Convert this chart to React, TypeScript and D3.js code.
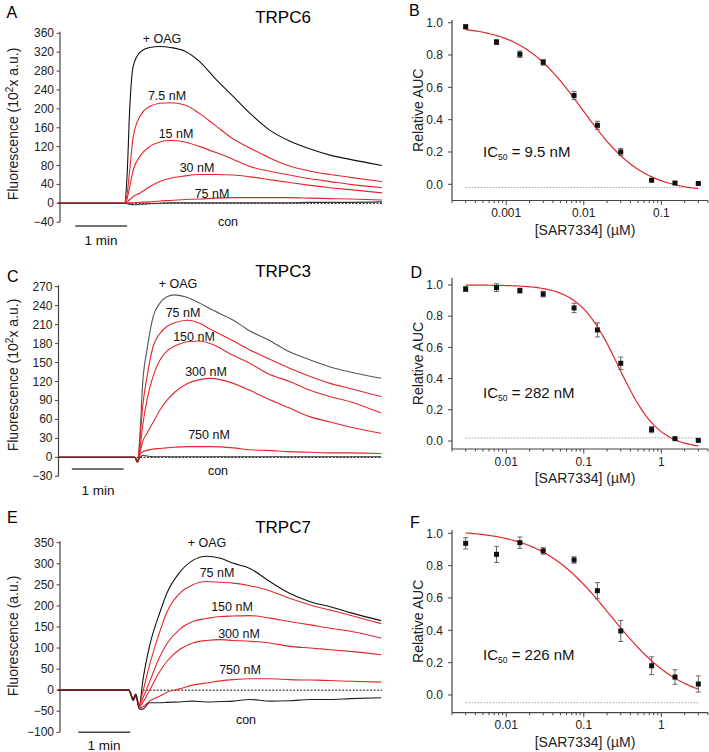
import React from 'react';
import * as d3 from 'd3';

const FONT = '"Liberation Sans", Arial, Helvetica, sans-serif';
const RED = '#e3262b';

// ---------- Panel A (TRPC6) traces ----------
const timesA = [0, 77, 80, 83, 87, 95, 106, 118, 130, 147, 164, 182, 203, 222, 245, 268, 292, 315, 338, 375];
const oagA = [0, 0, 60, 200, 290, 320, 330, 332, 330, 322, 300, 264, 226, 191, 155, 132, 115, 102, 93, 80];
const nm7_5A = [0, 0, 20, 70, 140, 185, 205, 212, 213, 208, 190, 165, 136, 117, 96, 79, 68, 61, 55, 46];
const nm15A = [0, 0, 10, 35, 70, 100, 120, 130, 133, 130, 120, 108, 93, 78, 68, 60, 52, 46, 40, 33];
const nm30A = [0, 0, 3, 8, 14, 22, 35, 46, 53, 58, 61, 61, 60, 56, 50, 44, 38, 33, 29, 22];
const nm75A = [0, 0, 0, 1, 1, 2, 3, 5, 6, 8, 9, 11, 12, 12, 12, 12, 11, 10, 9, 7];
const conA = [0, 0, -1, -2, -3, -2, -1, 0, 1, 1, 1, 1, 1, 1, 1, 1, 2, 2, 2, 3];
const labelsA = ['+ OAG', '7.5 nM', '15 nM', '30 nM', '75 nM', 'con'];
const ticksA = [-40, 0, 40, 80, 120, 160, 200, 240, 280, 320, 360];

// ---------- Panel C (TRPC3) traces ----------
const timesC = [0, 89, 92, 95, 98, 103, 110, 118, 126, 135, 150, 164, 176, 203, 222, 242, 268, 292, 315, 338, 374];
const oagC = [0, 0, -8, 40, 117, 170, 222, 244, 254, 257, 253, 244, 235, 217, 200, 187, 167, 154, 143, 135, 125];
const nm75C = [0, 0, -8, 30, 80, 127, 175, 196, 207, 213, 217, 212, 203, 184, 170, 157, 141, 128, 117, 109, 96];
const nm150C = [0, 0, -8, 15, 50, 91, 128, 154, 168, 176, 183, 184, 180, 161, 149, 133, 120, 106, 96, 88, 70];
const nm300C = [0, 0, -8, 8, 25, 38, 55, 75, 90, 103, 117, 123, 125, 117, 106, 93, 78, 64, 56, 48, 38];
const nm750C = [0, 0, -8, 4, 9, 11, 13, 14, 15, 16, 17, 17, 17, 15, 12, 11, 9, 8, 7, 7, 6];
const conC = [0, 0, -6, 0, 3, 2, 1, 1, 1, 1, 1, 1, 1, 1, 1, 1, 1, 1, 1, 1, 1];
const labelsC = ['+ OAG', '75 nM', '150 nM', '300 nM', '750 nM', 'con'];
const ticksC = [-30, 0, 30, 60, 90, 120, 150, 180, 210, 240, 270];

// ---------- Panel E (TRPC7) traces ----------
const timesE = [0, 82, 87, 90, 94, 98, 106, 118, 126, 141, 156, 172, 188, 203, 222, 245, 268, 292, 315, 338, 374];
const oagE = [0, 0, -25, -15, -40, 20, 105, 185, 230, 280, 308, 318, 313, 301, 289, 258, 230, 210, 198, 184, 165];
const nm75E = [0, 0, -20, -10, -35, -5, 60, 140, 185, 230, 250, 258, 256, 254, 248, 236, 218, 202, 190, 178, 158];
const nm150E = [0, 0, -20, -10, -38, -20, 20, 80, 110, 145, 163, 170, 175, 176, 177, 171, 163, 155, 147, 140, 124];
const nm300E = [0, 0, -20, -10, -40, -30, 0, 45, 68, 97, 112, 118, 120, 118, 116, 112, 104, 100, 96, 92, 84];
const nm750E = [0, 0, -20, -10, -42, -40, -26, -14, -5, 3, 12, 17, 22, 25, 27, 27, 25, 24, 23, 21, 19];
const conE = [0, 0, -22, -10, -45, -45, -30, -30, -29, -28, -26, -28, -27, -26, -22, -26, -25, -22, -22, -20, -18];
const labelsE = ['+ OAG', '75 nM', '150 nM', '300 nM', '750 nM', 'con'];
const ticksE = [-100, -50, 0, 50, 100, 150, 200, 250, 300, 350];

// ---------- Dose-response panels ----------
const concB = [0.0003, 0.00075, 0.0015, 0.003, 0.0075, 0.015, 0.03, 0.075, 0.15, 0.3];
const aucB = [0.975, 0.88, 0.805, 0.755, 0.55, 0.365, 0.2, 0.025, 0.008, 0.005];
const errB = [0.012, 0.015, 0.02, 0.018, 0.025, 0.025, 0.022, 0.006, 0.006, 0.006];
const fitB = { top: 0.98, bottom: -0.05, ic50: 0.0095, hill: 1.1, base: -0.019 };

const concD = [0.003, 0.0075, 0.015, 0.03, 0.075, 0.15, 0.3, 0.75, 1.5, 3];
const aucD = [0.974, 0.983, 0.964, 0.942, 0.853, 0.712, 0.498, 0.073, 0.015, 0.004];
const errD = [0.015, 0.025, 0.015, 0.018, 0.03, 0.045, 0.04, 0.02, 0.006, 0.006];
const fitD = { top: 1.0, bottom: -0.05, ic50: 0.282, hill: 1.7, base: 0.02 };

const concF = [0.003, 0.0075, 0.015, 0.03, 0.075, 0.15, 0.3, 0.75, 1.5, 3];
const aucF = [0.938, 0.87, 0.942, 0.891, 0.835, 0.645, 0.396, 0.181, 0.111, 0.068];
const errF = [0.035, 0.05, 0.035, 0.02, 0.02, 0.05, 0.065, 0.055, 0.045, 0.05];
const fitF = { top: 1.02, bottom: -0.048, ic50: 0.226, hill: 0.95, base: -0.048 };

const yTicksDose = [0, 0.2, 0.4, 0.6, 0.8, 1.0];

const xT = d3.scaleLinear().domain([0, 375]).range([58, 382]);

type TraceProps = {
  letter: string; title: string; yLabel: React.ReactNode;
  times: number[]; series: { v: number[]; c: string }[];
  labels: string[]; labelPos: [number, number][];
  yDomain: [number, number]; yRange: [number, number]; axisX: number; ticks: number[];
  letterPos: [number, number]; titleY: number; yTitleCY: number;
  zeroStart: number; bar: [number, number, number]; barLabel: [number, number];
};

function TracePanel(p: TraceProps) {
  const y = d3.scaleLinear().domain(p.yDomain).range(p.yRange);
  const line = d3.line<number>().x((_, i) => xT(p.times[i])).y(v => y(v)).curve(d3.curveMonotoneX);
  return (
    <g>
      <text x={p.letterPos[0]} y={p.letterPos[1]} fontSize={16}>{p.letter}</text>
      <text x={283} y={p.titleY} fontSize={17} textAnchor="middle">{p.title}</text>
      <line x1={p.axisX} x2={p.axisX} y1={y(p.yDomain[0])} y2={y(p.yDomain[1]) - 1.5} stroke="#444" strokeWidth={1.2} />
      {p.ticks.map(t => (
        <g key={t}>
          <line x1={p.axisX - 3.5} x2={p.axisX} y1={y(t)} y2={y(t)} stroke="#444" strokeWidth={1} />
          <text x={p.axisX - 6} y={y(t) + 4} fontSize={12} textAnchor="end" fill="#222">{d3.format('d')(t)}</text>
        </g>
      ))}
      <text transform={`translate(17.5,${p.yTitleCY}) rotate(-90)`} fontSize={14} textAnchor="middle" fill="#222">{p.yLabel}</text>
      <line x1={xT(p.zeroStart)} x2={xT(375)} y1={y(0)} y2={y(0)} stroke="#111" strokeWidth={1} strokeDasharray="2,1.5" />
      {p.series.map((s, i) => (
        <path key={i} d={line(s.v) || ''} fill="none" stroke={s.c} strokeWidth={1.1} />
      ))}
      {p.labels.map((l, i) => (
        <text key={l} x={p.labelPos[i][0]} y={p.labelPos[i][1]} fontSize={12.5} textAnchor="middle" fill="#111">{l}</text>
      ))}
      <line x1={xT(p.bar[0])} x2={xT(p.bar[1])} y1={p.bar[2]} y2={p.bar[2]} stroke="#444" strokeWidth={1.5} />
      <text x={p.barLabel[0]} y={p.barLabel[1]} fontSize={13.5} textAnchor="middle" fill="#111">1 min</text>
    </g>
  );
}

type DoseProps = {
  letter: string; letterPos: [number, number];
  conc: number[]; auc: number[]; err: number[];
  fit: { top: number; bottom: number; ic50: number; hill: number; base: number };
  xDomain: [number, number]; majors: number[]; y0: number; y1: number; axisTop: number; xAxisY: number;
  ic: string; icY: number;
};

function DosePanel(p: DoseProps) {
  const axisX = 452, xRight = 708;
  const x = d3.scaleLog().domain(p.xDomain).range([axisX, xRight]);
  const y = d3.scaleLinear().domain([0, 1]).range([p.y0, p.y1]);
  const minor: number[] = [];
  for (let d = -5; d <= 1; d++) for (let m = 1; m <= 9; m++) {
    const v = m * Math.pow(10, d);
    if (v >= p.xDomain[0] * 0.999 && v <= p.xDomain[1] * 1.001) minor.push(v);
  }
  const hillFn = (c: number) => p.fit.bottom + (p.fit.top - p.fit.bottom) / (1 + Math.pow(c / p.fit.ic50, p.fit.hill));
  const lo = Math.log10(p.conc[0]), hi = Math.log10(p.conc[p.conc.length - 1]);
  const fitPts = d3.range(0, 121).map(i => Math.pow(10, lo + (hi - lo) * i / 120));
  const fitLine = d3.line<number>().x(c => x(c)).y(c => y(hillFn(c)));
  const fmt = (v: number) => (v >= 1 ? String(v) : String(+v.toPrecision(1)));
  return (
    <g>
      <text x={p.letterPos[0]} y={p.letterPos[1]} fontSize={16}>{p.letter}</text>
      <line x1={axisX} x2={axisX} y1={p.axisTop} y2={p.xAxisY} stroke="#444" strokeWidth={1.2} />
      <line x1={axisX} x2={xRight} y1={p.xAxisY} y2={p.xAxisY} stroke="#444" strokeWidth={1.2} />
      {yTicksDose.map(t => (
        <g key={t}>
          <line x1={axisX - 4} x2={axisX} y1={y(t)} y2={y(t)} stroke="#444" strokeWidth={1} />
          <text x={axisX - 9} y={y(t) + 4.2} fontSize={12} textAnchor="end" fill="#222">{t.toFixed(1)}</text>
        </g>
      ))}
      {minor.map(v => {
        const major = p.majors.some(m => Math.abs(m - v) / m < 1e-6);
        return <line key={v} x1={x(v)} x2={x(v)} y1={p.xAxisY} y2={p.xAxisY + (major ? 4.5 : 2.5)} stroke="#444" strokeWidth={1} />;
      })}
      {p.majors.map(m => (
        <text key={m} x={x(m)} y={p.xAxisY + 16.5} fontSize={12} textAnchor="middle" fill="#222">{fmt(m)}</text>
      ))}
      <text x={(axisX + xRight) / 2 + 5} y={p.xAxisY + 34} fontSize={14} textAnchor="middle" fill="#222">[SAR7334] (µM)</text>
      <text transform={`translate(423,${(p.axisTop + p.xAxisY) / 2}) rotate(-90)`} fontSize={14} textAnchor="middle" fill="#222">Relative AUC</text>
      <line x1={x(p.conc[0])} x2={x(p.conc[p.conc.length - 1])} y1={y(p.fit.base)} y2={y(p.fit.base)} stroke="#888" strokeWidth={0.8} strokeDasharray="1.5,1.5" />
      <path d={fitLine(fitPts) || ''} fill="none" stroke={RED} strokeWidth={1.2} />
      {p.conc.map((c, i) => (
        <g key={c}>
          <line x1={x(c)} x2={x(c)} y1={y(p.auc[i] - p.err[i])} y2={y(p.auc[i] + p.err[i])} stroke="#666" strokeWidth={1} />
          <line x1={x(c) - 2.5} x2={x(c) + 2.5} y1={y(p.auc[i] - p.err[i])} y2={y(p.auc[i] - p.err[i])} stroke="#666" strokeWidth={1} />
          <line x1={x(c) - 2.5} x2={x(c) + 2.5} y1={y(p.auc[i] + p.err[i])} y2={y(p.auc[i] + p.err[i])} stroke="#666" strokeWidth={1} />
          <rect x={x(c) - 2.5} y={y(p.auc[i]) - 2.5} width={5} height={5} fill="#111" />
        </g>
      ))}
      <text x={483} y={p.icY} fontSize={15} fill="#111">
        IC<tspan fontSize={8.5} dy={3}>50</tspan><tspan dy={-3}>{` = ${p.ic}`}</tspan>
      </text>
    </g>
  );
}

export default function App() {
  return (
    <svg width={709} height={752} style={{ position: 'absolute', left: 0, top: 0, background: '#fff' }} fontFamily={FONT}>
      <rect width={709} height={752} fill="#fff" />
      <TracePanel
        letter="A" letterPos={[6.5, 18.3]} title="TRPC6" titleY={22.7}
        yLabel={<>Fluorescence (10<tspan fontSize={10} dy={-5}>2</tspan><tspan dy={5}>x a.u.)</tspan></>}
        times={timesA}
        series={[{ v: oagA, c: '#111' }, { v: nm7_5A, c: RED }, { v: nm15A, c: RED }, { v: nm30A, c: RED }, { v: nm75A, c: RED }, { v: conA, c: '#333' }]}
        labels={labelsA}
        labelPos={[[162, 42.5], [167, 99.5], [176, 137.5], [197, 171.5], [212, 197.5], [228, 225.5]]}
        yDomain={[-40, 360]} yRange={[222.2, 33.3]} axisX={60} ticks={ticksA}
        yTitleCY={124} zeroStart={77} bar={[20, 80, 226]} barLabel={[101, 244.5]}
      />
      <TracePanel
        letter="C" letterPos={[7, 281.5]} title="TRPC3" titleY={276.7}
        yLabel={<>Fluorescence (10<tspan fontSize={10} dy={-5}>2</tspan><tspan dy={5}>x a.u.)</tspan></>}
        times={timesC}
        series={[{ v: oagC, c: '#555' }, { v: nm75C, c: RED }, { v: nm150C, c: RED }, { v: nm300C, c: RED }, { v: nm750C, c: RED }, { v: conC, c: '#333' }]}
        labels={labelsC}
        labelPos={[[178, 287.5], [183, 317], [194, 340.5], [206, 375.5], [209, 438.5], [218, 474.5]]}
        yDomain={[-30, 270]} yRange={[476.3, 286.7]} axisX={58.5} ticks={ticksC}
        yTitleCY={375} zeroStart={91} bar={[16, 76, 469]} barLabel={[98, 494.5]}
      />
      <TracePanel
        letter="E" letterPos={[7, 523.3]} title="TRPC7" titleY={533.3}
        yLabel={<>Fluorescence (a.u.)</>}
        times={timesE}
        series={[{ v: oagE, c: '#111' }, { v: nm75E, c: RED }, { v: nm150E, c: RED }, { v: nm300E, c: RED }, { v: nm750E, c: RED }, { v: conE, c: '#222' }]}
        labels={labelsE}
        labelPos={[[207, 547], [217, 577], [232, 610.5], [239, 637.5], [240, 673.5], [246, 723.5]]}
        yDomain={[-100, 350]} yRange={[732.3, 542.7]} axisX={60} ticks={ticksE}
        yTitleCY={636} zeroStart={98} bar={[23.5, 83.5, 732.3]} barLabel={[104, 749.5]}
      />
      <DosePanel letter="B" letterPos={[409, 15.5]} conc={concB} auc={aucB} err={errB} fit={fitB}
        xDomain={[0.0002, 0.4]} majors={[0.001, 0.01, 0.1]} y0={184.3} y1={22.7} axisTop={20} xAxisY={200.5}
        ic="9.5 nM" icY={157} />
      <DosePanel letter="D" letterPos={[410.5, 278]} conc={concD} auc={aucD} err={errD} fit={fitD}
        xDomain={[0.002, 4]} majors={[0.01, 0.1, 1]} y0={441} y1={285} axisTop={278} xAxisY={449}
        ic="282 nM" icY={398} />
      <DosePanel letter="F" letterPos={[410, 528]} conc={concF} auc={aucF} err={errF} fit={fitF}
        xDomain={[0.002, 4]} majors={[0.01, 0.1, 1]} y0={695} y1={533.3} axisTop={530} xAxisY={712.7}
        ic="226 nM" icY={660} />
    </svg>
  );
}
